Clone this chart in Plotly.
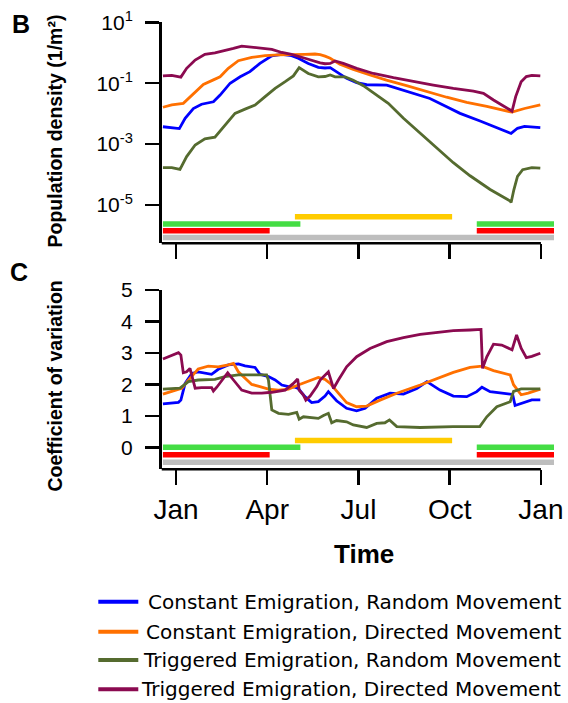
import numpy as np
import plotly.graph_objects as go

# ---------------- data (x in months from 1 Jan; panel B values are log10 density) ----------------
month_ticks = [0, 3, 6, 9, 12]
month_labels = ["Jan", "Apr", "Jul", "Oct", "Jan"]

series_names = [
    "Constant Emigration, Random Movement",
    "Constant Emigration, Directed Movement",
    "Triggered Emigration, Random Movement",
    "Triggered Emigration, Directed Movement",
]
series_colors = ["#0000FF", "#FF7000", "#556B2F", "#8B0A50"]

# Panel B: population density (log10 of 1/m^2)
b_cr_x = [-0.43, -0.14, 0.11, 0.30, 0.57, 0.84, 1.23, 1.45, 1.78, 2.11, 2.43, 2.76, 3.15, 3.48, 3.80, 4.02,
          4.35, 4.68, 4.90, 5.07, 5.28, 5.61, 5.94, 6.27, 6.93, 7.37, 8.03, 8.35, 8.90, 9.34, 10.00, 10.55,
          11.00, 11.02, 11.23, 11.46, 11.98]
b_cr_y = [-2.43, -2.45, -2.49, -2.15, -1.83, -1.69, -1.61, -1.39, -1.00, -0.79, -0.62, -0.35, -0.10, -0.05,
          -0.095, -0.18, -0.35, -0.48, -0.50, -0.49, -0.62, -0.84, -0.98, -1.05, -1.06, -1.19, -1.39, -1.50,
          -1.77, -1.99, -2.24, -2.46, -2.64, -2.65, -2.48, -2.42, -2.46]

b_cd_x = [-0.43, -0.14, 0.24, 0.52, 0.90, 1.23, 1.45, 1.72, 2.05, 2.49, 2.93, 3.37, 3.80, 4.24, 4.57, 4.74,
          4.90, 5.07, 5.39, 5.83, 6.38, 6.92, 7.58, 8.24, 8.90, 9.56, 10.22, 11.00, 11.05, 11.46, 11.98]
b_cd_y = [-1.79, -1.71, -1.66, -1.39, -1.04, -0.89, -0.79, -0.51, -0.26, -0.15, -0.095, -0.07, -0.07, -0.05,
          -0.04, -0.06, -0.11, -0.18, -0.38, -0.55, -0.73, -0.90, -1.08, -1.28, -1.46, -1.63, -1.76, -1.94,
          -1.95, -1.83, -1.71]

b_tr_x = [-0.43, -0.14, 0.13, 0.35, 0.63, 0.95, 1.28, 1.61, 1.94, 2.27, 2.60, 2.93, 3.26, 3.59, 3.86, 4.05,
          4.35, 4.68, 4.90, 5.07, 5.23, 5.56, 5.83, 6.16, 6.60, 6.98, 7.48, 8.03, 8.57, 9.12, 9.67, 10.33,
          10.99, 11.02, 11.11, 11.23, 11.40, 11.70, 11.98]
b_tr_y = [-3.77, -3.77, -3.83, -3.41, -3.03, -2.83, -2.77, -2.37, -1.99, -1.85, -1.72, -1.44, -1.17, -0.95,
          -0.76, -0.49, -0.68, -0.79, -0.78, -0.73, -0.79, -0.79, -0.90, -1.08, -1.39, -1.66, -2.15, -2.65,
          -3.14, -3.61, -4.04, -4.49, -4.87, -4.92, -4.50, -4.06, -3.84, -3.77, -3.79]

b_td_x = [-0.43, -0.14, 0.16, 0.35, 0.63, 0.95, 1.28, 1.61, 1.89, 2.16, 2.49, 2.82, 3.15, 3.48, 3.80, 4.24,
          4.57, 4.74, 4.90, 5.07, 5.23, 5.50, 5.94, 6.49, 7.15, 7.81, 8.46, 9.12, 9.78, 10.11, 10.44, 10.99,
          11.05, 11.17, 11.35, 11.52, 11.70, 11.98]
b_td_y = [-0.76, -0.74, -0.80, -0.51, -0.24, -0.05, 0.00, 0.07, 0.145, 0.22, 0.18, 0.145, 0.11, 0.01, -0.05,
          -0.18, -0.29, -0.33, -0.36, -0.35, -0.27, -0.35, -0.51, -0.68, -0.82, -0.95, -1.06, -1.17, -1.26,
          -1.33, -1.55, -1.88, -1.92, -1.44, -0.95, -0.78, -0.74, -0.76]

# Panel C: coefficient of variation
c_cr_x = [-0.43, 0.08, 0.16, 0.30, 0.52, 0.73, 1.17, 1.39, 1.72, 2.05, 2.27, 2.60, 2.76, 3.04, 3.26, 3.48,
          3.70, 3.91, 4.02, 4.24, 4.46, 4.68, 4.90, 5.01, 5.28, 5.61, 5.94, 6.22, 6.60, 7.04, 7.48, 7.92,
          8.25, 8.68, 9.12, 9.56, 9.89, 10.06, 10.33, 10.66, 11.07, 11.15, 11.35, 11.70, 11.98]
c_cr_y = [1.38, 1.43, 1.50, 2.03, 2.35, 2.40, 2.32, 2.48, 2.62, 2.65, 2.59, 2.54, 2.32, 2.25, 2.14, 1.98,
          1.93, 1.91, 1.87, 1.61, 1.42, 1.45, 1.63, 1.77, 1.48, 1.24, 1.16, 1.24, 1.56, 1.72, 1.69, 1.87,
          2.09, 1.82, 1.63, 1.61, 1.77, 1.91, 1.77, 1.72, 1.68, 1.33, 1.40, 1.51, 1.51]

c_cd_x = [-0.43, -0.14, 0.19, 0.46, 0.73, 1.06, 1.39, 1.72, 1.89, 2.05, 2.27, 2.49, 2.76, 3.04, 3.37, 3.70,
          4.02, 4.35, 4.68, 4.90, 5.07, 5.34, 5.61, 5.94, 6.27, 6.71, 7.26, 8.03, 8.57, 9.12, 9.67, 10.06,
          10.44, 10.99, 11.10, 11.35, 11.58, 11.98]
c_cd_y = [1.69, 1.77, 1.88, 2.19, 2.49, 2.58, 2.56, 2.62, 2.67, 2.40, 2.19, 2.00, 1.93, 1.85, 1.82, 1.85,
          1.98, 2.11, 2.22, 2.16, 2.03, 1.72, 1.42, 1.29, 1.31, 1.50, 1.72, 1.98, 2.19, 2.38, 2.54, 2.58,
          2.44, 2.30, 1.99, 1.67, 1.72, 1.85]

c_tr_x = [-0.43, 0.13, 0.41, 0.73, 1.28, 1.61, 2.05, 2.49, 2.98, 3.04, 3.15, 3.37, 3.70, 3.97, 4.05, 4.19,
          4.46, 4.68, 4.85, 5.01, 5.12, 5.28, 5.61, 5.83, 6.27, 6.60, 6.87, 7.02, 7.26, 8.03, 9.12, 9.99,
          10.22, 10.55, 10.99, 11.10, 11.35, 11.98]
c_tr_y = [1.85, 1.88, 2.09, 2.14, 2.16, 2.25, 2.30, 2.30, 2.30, 2.14, 1.19, 1.08, 1.05, 1.11, 0.89, 0.97,
          0.95, 0.92, 1.01, 1.08, 0.78, 0.85, 0.81, 0.71, 0.63, 0.76, 0.78, 0.87, 0.66, 0.63, 0.66, 0.66,
          0.97, 1.29, 1.45, 1.78, 1.86, 1.86]

c_td_x = [-0.43, -0.14, 0.08, 0.16, 0.24, 0.35, 0.46, 0.63, 0.84, 1.17, 1.23, 1.34, 1.56, 1.70, 1.89, 2.16,
          2.49, 2.82, 3.15, 3.59, 3.86, 4.00, 4.05, 4.19, 4.27, 4.41, 4.63, 4.74, 5.01, 5.18, 5.34, 5.61,
          5.94, 6.38, 6.93, 7.48, 8.03, 8.57, 9.12, 9.67, 10.03, 10.08, 10.22, 10.44, 10.71, 11.05, 11.20,
          11.35, 11.52, 11.70, 11.98]
c_td_y = [2.81, 2.93, 3.01, 2.93, 2.37, 2.40, 2.51, 1.88, 1.90, 1.90, 1.79, 1.91, 2.19, 2.37, 2.14, 1.82,
          1.72, 1.72, 1.75, 1.82, 2.03, 2.17, 1.82, 1.66, 1.50, 1.63, 1.93, 2.14, 2.40, 1.87, 2.14, 2.56,
          2.88, 3.14, 3.36, 3.49, 3.59, 3.65, 3.71, 3.73, 3.75, 2.51, 2.88, 3.28, 3.25, 3.10, 3.57,
          3.15, 2.85, 2.89, 2.99]

# Season bars (start, end in months)
bar_start = -0.43
bar_end = 12.43
gray_periods = [(bar_start, bar_end)]
red_periods = [(bar_start, 3.08), (9.89, bar_end)]
green_periods = [(bar_start, 4.09), (9.89, bar_end)]
yellow_periods = [(3.91, 9.08)]

B_series = [(b_cr_x, b_cr_y), (b_cd_x, b_cd_y), (b_tr_x, b_tr_y), (b_td_x, b_td_y)]
C_series = [(c_cr_x, c_cr_y), (c_cd_x, c_cd_y), (c_tr_x, c_tr_y), (c_td_x, c_td_y)]

# ---------------- layout geometry (window pixels) ----------------
W, H = 568, 703
def fx(p):
    return p / W
def fy(p):
    return 1 - p / H

AX_FONT = "Arial, Liberation Sans, sans-serif"
LEG_FONT = "DejaVu Sans, Verdana, sans-serif"

fig = go.Figure()
for (x, y), name, col in zip(B_series, series_names, series_colors):
    fig.add_trace(go.Scatter(x=x, y=np.power(10.0, y), mode="lines", name=name,
                             line=dict(color=col, width=2.8), xaxis="x", yaxis="y",
                             showlegend=False))
for (x, y), name, col in zip(C_series, series_names, series_colors):
    fig.add_trace(go.Scatter(x=x, y=y, mode="lines", name=name,
                             line=dict(color=col, width=2.8), xaxis="x2", yaxis="y2",
                             showlegend=False))

x_dom = [fx(161.5), fx(554.3)]
x_range = [-0.477, 12.44]
yB_dom = [fy(243.3), fy(22.3)]
yC_dom = [fy(469.3), fy(290.0)]

common_x = dict(domain=x_dom, range=x_range, tickvals=month_ticks, ticks="outside",
                ticklen=15, tickwidth=2.5, tickcolor="black", showline=False,
                showgrid=False, zeroline=False, automargin=False, ticklabeloverflow="allow")
common_y = dict(ticks="outside", ticklen=14, tickwidth=2.5, tickcolor="black",
                showline=True, linewidth=2.5, linecolor="black", showgrid=False,
                zeroline=False, ticklabelstandoff=8, automargin=False,
                tickfont=dict(family=AX_FONT, size=21, color="black"))

fig.update_layout(
    template="none",
    width=W, height=H, margin=dict(l=0, r=0, t=0, b=0, pad=0, autoexpand=False),
    paper_bgcolor="white", plot_bgcolor="white", showlegend=False,
    xaxis=dict(**common_x, anchor="y", showticklabels=False),
    yaxis=dict(**common_y, anchor="x", domain=yB_dom, type="log", range=[-6.258, 1.001],
               tickvals=[10, 0.1, 0.001, 0.00001],
               ticktext=["10<sup>1</sup>", "10<sup>-1</sup>", "10<sup>-3</sup>", "10<sup>-5</sup>"]),
    xaxis2=dict(**common_x, anchor="y2", showticklabels=True, ticktext=month_labels,
                tickfont=dict(family=AX_FONT, size=28, color="black")),
    yaxis2=dict(**common_y, anchor="x2", domain=yC_dom, range=[-0.70, 5.002],
                tickvals=[0, 1, 2, 3, 4, 5], ticktext=["0", "1", "2", "3", "4", "5"]),
)

# x-axis lines (span from y-axis to last tick)
for xr, yb in (("x", yB_dom[0]), ("x2", yC_dom[0])):
    fig.add_shape(type="line", xref=xr, yref="paper", x0=x_range[0], x1=month_ticks[-1],
                  y0=yb, y1=yb, line=dict(color="black", width=2.5))

# season bars
bar_rows_B = [(yellow_periods, "#FFCC00", 0.1204), (green_periods, "#44DD44", 0.0873),
              (red_periods, "#FF0000", 0.0566), (gray_periods, "#BEBEBE", 0.0262)]
bar_rows_C = [(yellow_periods, "#FFCC00", 0.1606), (green_periods, "#44DD44", 0.1227),
              (red_periods, "#FF0000", 0.0809), (gray_periods, "#BEBEBE", 0.0396)]
for xr, yr, rows in (("x", "y domain", bar_rows_B), ("x2", "y2 domain", bar_rows_C)):
    for periods, col, yv in rows:
        for a, b in periods:
            fig.add_shape(type="line", xref=xr, yref=yr, x0=a, x1=b, y0=yv, y1=yv,
                          line=dict(color=col, width=5.5))

# axis titles and panel letters
ann = [
    dict(text="<b>Population density (1/m²)</b>", x=fx(54), y=fy(131.5), textangle=-90,
         font=dict(family=AX_FONT, size=19.5, color="black")),
    dict(text="<b>Coefficient of variation</b>", x=fx(54), y=fy(386.5), textangle=-90,
         font=dict(family=AX_FONT, size=19.5, color="black")),
    dict(text="<b>Time</b>", x=fx(364), y=fy(554), font=dict(family=AX_FONT, size=26, color="black")),
    dict(text="<b>B</b>", x=fx(21), y=fy(23.5), font=dict(family=AX_FONT, size=25, color="black")),
    dict(text="<b>C</b>", x=fx(19), y=fy(272), font=dict(family=AX_FONT, size=25, color="black")),
]
for a in ann:
    fig.add_annotation(xref="paper", yref="paper", showarrow=False, xanchor="center",
                       yanchor="middle", **a)

# legend (right-aligned text with line samples)
leg_rows = [601.7, 631.7, 660.0, 689.3]
for name, col, ry in zip(series_names, series_colors, leg_rows):
    fig.add_shape(type="line", xref="paper", yref="paper", x0=fx(98.3), x1=fx(138.3),
                  y0=fy(ry), y1=fy(ry), line=dict(color=col, width=4))
    fig.add_annotation(xref="paper", yref="paper", x=fx(563.3), y=fy(ry), text=name,
                       showarrow=False, xanchor="right", yanchor="middle",
                       font=dict(family=LEG_FONT, size=20, color="black"))

# remove the page's default body margin so the figure fills the window exactly
fig.write_html("out.html",
               config={"displayModeBar": False, "staticPlot": True},
               post_script="document.body.style.margin='0px';document.body.style.overflow='hidden';")
